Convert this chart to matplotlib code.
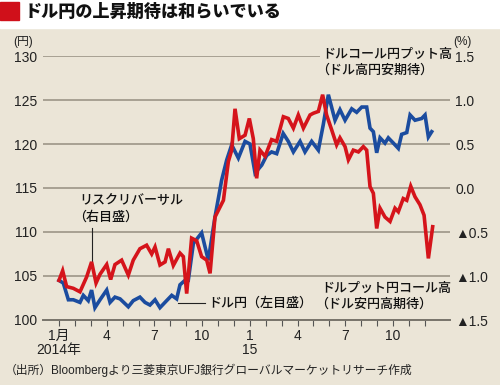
import matplotlib.pyplot as plt
from matplotlib.patches import Rectangle

plt.rcParams['font.family'] = ['Liberation Sans', 'Noto Sans CJK JP']

# x = months since January 2014 (0 = 2014年1月)
usd_month = [0.0, 0.27, 0.59, 0.9, 1.32, 1.53, 1.84, 2.05, 2.26, 2.58, 3.0, 3.21,
             3.52, 3.84, 4.36, 4.67, 5.09, 5.41, 5.72, 6.04, 6.35, 6.77, 7.09,
             7.4, 7.61, 7.92, 8.13, 8.45, 8.97, 9.39, 9.81, 10.23, 10.55, 10.86,
             11.28, 11.7, 12.01, 12.33, 12.75, 13.06, 13.37, 13.69, 14.1, 14.42,
             14.74, 15.16, 15.47, 15.89, 16.31, 16.62, 16.94, 17.36, 17.67,
             17.99, 18.41, 18.72, 19.04, 19.35, 19.56, 19.77, 19.98, 20.19,
             20.5, 20.71, 21.03, 21.34, 21.55, 21.87, 22.08, 22.39, 22.81,
             23.02, 23.23, 23.44]
usd_jpy = [104.5, 104.2, 102.3, 102.3, 102.0, 102.8, 102.2, 103.4, 101.4, 102.3,
           103.4, 102.0, 102.6, 102.4, 101.5, 102.2, 102.6, 102.0, 101.7, 102.3,
           101.4, 102.2, 102.8, 102.4, 104.0, 104.5, 104.5, 108.7, 109.9, 106.8,
           111.7, 115.9, 118.2, 119.9, 118.4, 120.3, 120.0, 116.7, 117.6, 118.7,
           119.1, 118.9, 121.2, 120.3, 119.1, 120.3, 119.1, 120.3, 119.3, 122.2,
           125.6, 122.7, 123.9, 122.7, 124.0, 123.6, 124.2, 124.2, 121.8, 121.4,
           119.0, 120.7, 120.1, 120.7, 120.1, 119.5, 121.1, 121.3, 123.3, 122.7,
           122.9, 123.3, 120.8, 121.4]

rr_month = [0.0, 0.23, 0.48, 0.9, 1.32, 1.74, 2.05, 2.33, 2.58, 3.0, 3.25, 3.52,
            3.94, 4.36, 4.67, 5.09, 5.51, 5.83, 6.04, 6.35, 6.67, 6.88, 7.19,
            7.61, 7.82, 8.03, 8.34, 8.66, 8.97, 9.29, 9.5, 9.81, 10.34, 10.65,
            10.86, 11.07, 11.34, 11.7, 11.97, 12.22, 12.43, 12.64, 12.96, 13.37,
            13.69, 14.11, 14.42, 14.74, 15.05, 15.37, 15.79, 16.0, 16.31, 16.58,
            16.83, 17.15, 17.46, 17.67, 17.99, 18.2, 18.51, 18.83, 19.14, 19.35,
            19.56, 19.77, 19.98, 20.19, 20.5, 20.82, 21.13, 21.34, 21.65, 21.87,
            22.12, 22.39, 22.7, 22.96, 23.23, 23.5]
risk_reversal = [-1.05, -0.94, -1.12, -1.14, -1.18, -1.01, -0.84, -1.08, -0.98,
                 -0.87, -1.04, -0.87, -0.82, -0.99, -0.82, -0.69, -0.65, -0.75,
                 -0.67, -0.875, -0.84, -0.69, -0.88, -0.74, -0.78, -1.2, -0.57,
                 -0.6, -0.78, -0.82, -0.97, -0.33, -0.14, 0.3, 0.43, 0.9, 0.56,
                 0.6, 0.79, 0.56, 0.11, 0.43, 0.36, 0.55, 0.53, 0.81, 0.79, 0.68,
                 0.83, 0.68, 0.83, 0.85, 0.87, 1.06, 0.83, 0.66, 0.49, 0.57, 0.47,
                 0.32, 0.43, 0.41, 0.47, 0.43, 0.015, -0.06, -0.46, -0.23, -0.33,
                 -0.38, -0.23, -0.27, -0.12, -0.14, 0.02, -0.1, -0.19, -0.31,
                 -0.8, -0.44]

tick_months = list(range(24))
tick_labels = ['1月\n2014年', '', '', '4', '', '', '7', '', '', '10', '', '',
               '1\n15', '', '', '4', '', '', '7', '', '', '10', '', '']
left_ticks = [100, 105, 110, 115, 120, 125, 130]
right_ticks = [-1.5, -1.0, -0.5, 0.0, 0.5, 1.0, 1.5]
right_labels = ['▲1.5', '▲1.0', '▲0.5', '0.0', '0.5', '1.0', '1.5']

BG = '#EBE5D7'
GRID = '#A29B8D'
RED = '#D5141B'
BLUE = '#1B4C9F'
W, H = 500, 385


def fx(x):
    return x / W


def fy(y):
    return 1 - y / H


fig = plt.figure(figsize=(5, 3.85), dpi=100, facecolor=BG)
# white title band + red square
fig.patches.append(Rectangle((0, fy(28)), 1, 28 / H, transform=fig.transFigure,
                             color='white', zorder=0))
fig.patches.append(Rectangle((0, fy(20)), 19 / W, 18 / H, transform=fig.transFigure,
                             color='#D0101A', zorder=1))
fig.text(fx(25), fy(11), 'ドル円の上昇期待は和らいでいる', fontsize=12.3,
         fontweight='heavy', va='center', ha='left', color='#111')

ax = fig.add_axes([fx(43), fy(320), fx(450) - fx(43), (320 - 56) / H])
ax.set_facecolor('none')
ax.set_xlim(-1.006, 24.59)
ax.set_ylim(100, 130)
for v in left_ticks[1:]:
    ax.axhline(v, color=GRID, lw=1.3, zorder=0)
for s in ['top', 'right', 'left']:
    ax.spines[s].set_visible(False)
ax.spines['bottom'].set_color('#77736B')
ax.spines['bottom'].set_linewidth(1.4)
ax.set_yticks(left_ticks)
ax.set_yticklabels([str(v) for v in left_ticks], fontsize=10, color='#222')
ax.tick_params(axis='y', length=0, pad=4.3)
ax.set_xticks(tick_months)
ax.set_xticklabels(tick_labels, fontsize=10, color='#222')
ax.tick_params(axis='x', direction='out', length=4, width=0.8, color='#555', pad=2.5)
for lbl in ax.get_xticklabels():
    lbl.set_linespacing(1.0)

ax.plot(usd_month, usd_jpy, color=BLUE, lw=2.6, solid_joinstyle='miter')

ax2 = ax.twinx()
ax2.set_ylim(-1.5, 1.5)
for s in ax2.spines.values():
    s.set_visible(False)
ax2.set_yticks(right_ticks)
ax2.set_yticklabels(right_labels, fontsize=10, color='#222')
ax2.tick_params(axis='y', length=0, pad=3.6)
ax2.plot(rr_month, risk_reversal, color=RED, lw=2.6, solid_joinstyle='miter')

# leader lines
ax.plot([2.1, 2.1], [106.7, 110.4], color='#222', lw=0.8)
ax.plot([7.48, 9.18], [101.97, 101.97], color='#222', lw=0.8)

# unit labels
fig.text(fx(13), fy(42), '(円)', fontsize=8.5, va='center', ha='left', color='#222')
fig.text(fx(453), fy(42), '(%)', fontsize=8.5, va='center', ha='left', color='#222')

# annotations
fs = 9.4
kw = dict(fontsize=fs, va='center', color='#111', fontweight='medium')
fig.text(fx(79), fy(201.5), 'リスクリバーサル', **kw)
fig.text(fx(73), fy(217), '（右目盛）', **kw)
fig.text(fx(208), fy(303), 'ドル円（左目盛）', **kw)
fig.text(fx(322), fy(55), 'ドルコール円プット高',
         bbox=dict(facecolor=BG, edgecolor='none', pad=1.5), **kw)
fig.text(fx(316), fy(70.5), '（ドル高円安期待）', **kw)
fig.text(fx(321), fy(289), 'ドルプット円コール高', **kw)
fig.text(fx(315), fy(304.5), '（ドル安円高期待）', **kw)

fig.text(fx(5), fy(370), '（出所）Bloombergより三菱東京UFJ銀行グローバルマーケットリサーチ作成',
         fontsize=8.5, va='center', ha='left', color='#222')

fig.savefig('out.png', dpi=100, facecolor=BG)
